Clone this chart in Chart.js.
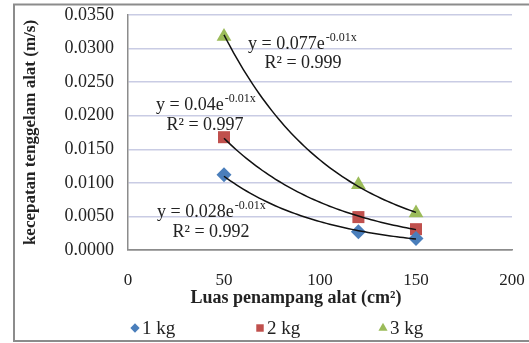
<!DOCTYPE html>
<html>
<head>
<meta charset="utf-8">
<script src="https://cdn.jsdelivr.net/npm/chart.js@4.4.0/dist/chart.umd.min.js"></script>
<style>
  html, body { margin: 0; padding: 0; background: #fff; }
  #wrap { width: 529px; height: 343px; }
</style>
</head>
<body>
<div id="wrap"><canvas id="grafik"></canvas></div>
<script>
// data pengukuran: luas penampang (cm2) vs kecepatan tenggelam (m/s)
const luas = [50, 120, 150];
const kecepatan1kg = [0.0112, 0.0027, 0.0017];
const kecepatan2kg = [0.0168, 0.0049, 0.0031];
const kecepatan3kg = [0.0318, 0.0097, 0.0055];

const namaSeri = ['1 kg', '2 kg', '3 kg'];
const xTicks = [0, 50, 100, 150, 200];
const yTicks = [0, 0.005, 0.01, 0.015, 0.02, 0.025, 0.03, 0.035];

// teks persamaan trendline (seperti ditampilkan Excel)
const persamaanKoef = ['0.028', '0.04', '0.077'];
const persamaanPangkat = ['-0.01x', '-0.01x', '-0.01x'];
const persamaanR2 = ['0.992', '0.997', '0.999'];

const warna = ['#4a7ebb', '#c0504d', '#9bbb59'];
const bentuk = ['rectRot', 'rect', 'triangle'];
const ukuran = [7.5, 8.5, 8.5];
const FONT = "'Liberation Serif', 'Times New Roman', serif";

// posisi label persamaan (px) : [x kiri baris y, y baris 1, x tengah R2, y baris 2]
const posLabel = [
  [157, 212, 211, 232],
  [156, 105, 205, 125],
  [248, 44, 303, 63]
];

// regresi eksponensial y = a e^(kx) lewat kuadrat terkecil pada ln(y)
function fitEksponensial(xs, ys) {
  const n = xs.length;
  const ly = ys.map(Math.log);
  const mx = xs.reduce((s, v) => s + v, 0) / n;
  const my = ly.reduce((s, v) => s + v, 0) / n;
  let sxy = 0, sxx = 0;
  xs.forEach((x, i) => { sxy += (x - mx) * (ly[i] - my); sxx += (x - mx) * (x - mx); });
  const k = sxy / sxx;
  return { a: Math.exp(my - k * mx), k: k };
}

function garisTren(xs, ys) {
  const f = fitEksponensial(xs, ys);
  const x0 = xs[0], x1 = xs[xs.length - 1];
  const pts = [];
  for (let i = 0; i <= 60; i++) {
    const x = x0 + (x1 - x0) * i / 60;
    pts.push({ x: x, y: f.a * Math.exp(f.k * x) });
  }
  return pts;
}

const semuaSeri = [kecepatan1kg, kecepatan2kg, kecepatan3kg];
const datasets = [];
semuaSeri.forEach((ys) => {
  datasets.push({
    data: garisTren(luas, ys),
    showLine: true,
    borderColor: '#111',
    borderWidth: 1.5,
    pointRadius: 0,
    tension: 0,
    order: 0
  });
});
semuaSeri.forEach((ys, i) => {
  datasets.push({
    label: namaSeri[i],
    data: luas.map((x, j) => ({ x: x, y: ys[j] })),
    backgroundColor: warna[i],
    borderColor: warna[i],
    borderWidth: 0,
    pointStyle: bentuk[i],
    pointRadius: ukuran[i],
    order: 1
  });
});

// bingkai, judul sumbu x, label persamaan dan legenda
const hiasan = {
  id: 'hiasan',
  beforeDraw(chart) {
    const ctx = chart.ctx;
    ctx.save();
    ctx.fillStyle = '#fff';
    ctx.fillRect(0, 0, chart.width, chart.height);
    ctx.strokeStyle = '#8c8c8c';
    ctx.lineWidth = 2;
    ctx.strokeRect(14, 4.5, 560, 336.5);
    ctx.restore();
  },
  afterDraw(chart) {
    const ctx = chart.ctx;
    ctx.save();
    ctx.fillStyle = '#222';
    ctx.textBaseline = 'middle';

    // judul sumbu x
    ctx.font = 'bold 18px ' + FONT;
    ctx.textAlign = 'center';
    ctx.fillText('Luas penampang alat (cm\u00B2)', 296, 298);

    // persamaan trendline
    persamaanKoef.forEach((koef, i) => {
      const p = posLabel[i];
      ctx.textAlign = 'left';
      ctx.font = '18px ' + FONT;
      const utama = 'y = ' + koef + 'e';
      ctx.fillText(utama, p[0], p[1]);
      const w = ctx.measureText(utama).width;
      ctx.font = '12px ' + FONT;
      ctx.fillText(persamaanPangkat[i], p[0] + w + 1, p[1] - 6);
      ctx.font = '18px ' + FONT;
      ctx.textAlign = 'center';
      ctx.fillText('R\u00B2 = ' + persamaanR2[i], p[2], p[3]);
    });

    // legenda
    const legX = [135, 260, 383];
    namaSeri.forEach((nama, i) => {
      ctx.fillStyle = warna[i];
      ctx.strokeStyle = warna[i];
      Chart.helpers.drawPoint(ctx, { pointStyle: bentuk[i], radius: ukuran[i] * 0.62, borderWidth: 0 }, legX[i], 328);
      ctx.fillStyle = '#222';
      ctx.textAlign = 'left';
      ctx.font = '19px ' + FONT;
      ctx.fillText(nama, legX[i] + 7, 329);
    });
    ctx.restore();
  }
};

new Chart(document.getElementById('grafik'), {
  type: 'scatter',
  data: { datasets: datasets },
  options: {
    responsive: true,
    maintainAspectRatio: false,
    animation: false,
    layout: { padding: { left: 14, right: 17, top: 15, bottom: 0 } },
    plugins: {
      legend: { display: false },
      tooltip: { enabled: false }
    },
    scales: {
      x: {
        type: 'linear',
        min: 0,
        max: 200,
        afterBuildTicks: (s) => { s.ticks = xTicks.map(v => ({ value: v })); },
        afterFit: (s) => { s.height = 93; s.paddingLeft = 0; s.paddingRight = 0; },
        grid: { display: false, drawTicks: false },
        border: { display: true, color: '#8c8c8c', width: 1.5 },
        ticks: { padding: 20, color: '#222', font: { family: FONT, size: 17 } }
      },
      y: {
        type: 'linear',
        min: 0,
        max: 0.035,
        afterBuildTicks: (s) => { s.ticks = yTicks.map(v => ({ value: v })); },
        afterFit: (s) => { s.width = 114; s.paddingTop = 0; s.paddingBottom = 0; },
        grid: {
          drawTicks: false,
          color: (c) => c.tick && c.tick.value === 0 ? '#8c8c8c' : '#c9cce4',
          lineWidth: 1.5
        },
        border: { display: true, color: '#8c8c8c', width: 1.5 },
        ticks: {
          padding: 14,
          color: '#222',
          font: { family: FONT, size: 18 },
          callback: (v) => v.toFixed(4)
        },
        title: {
          display: true,
          text: 'kecepatan tenggelam alat (m/s)',
          color: '#222',
          padding: { top: 6, bottom: 0 },
          font: { family: FONT, size: 17, weight: 'bold' }
        }
      }
    }
  },
  plugins: [hiasan]
});
</script>
</body>
</html>
